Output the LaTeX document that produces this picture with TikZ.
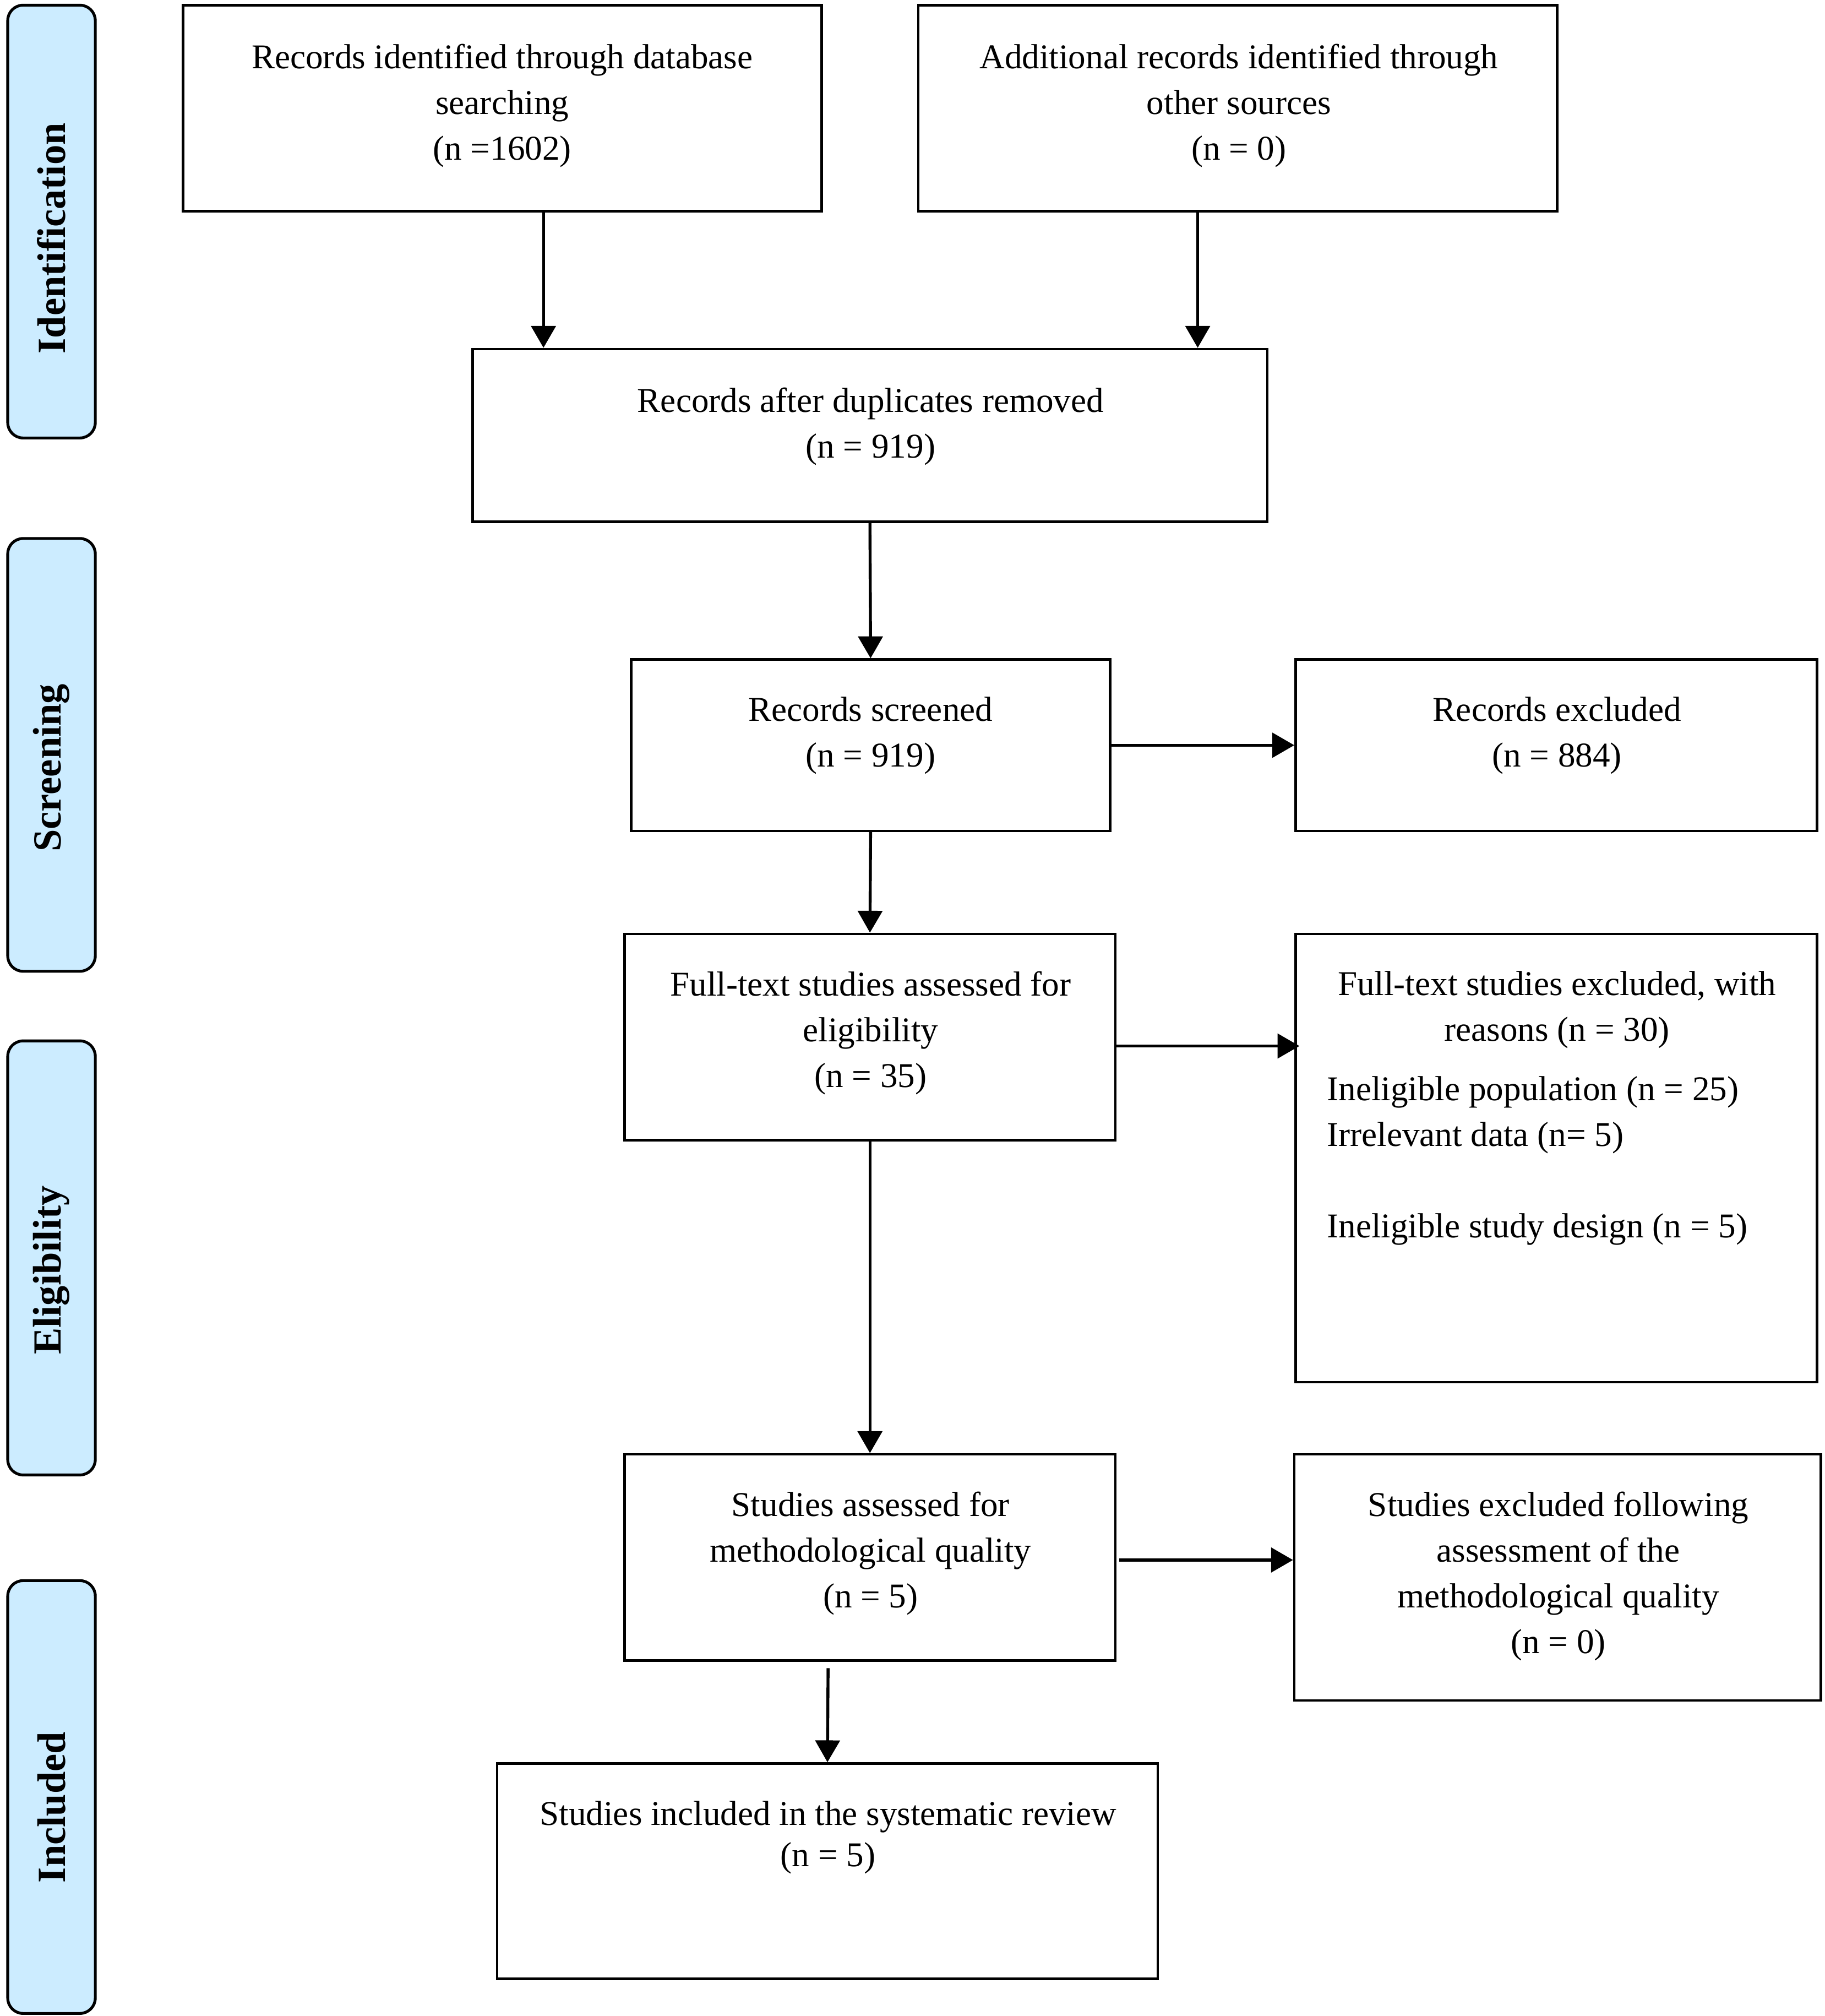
\documentclass[tikz,border=0pt]{standalone}
\usepackage{fontspec}
\setmainfont{Liberation Serif}
\usetikzlibrary{arrows.meta}
\definecolor{sideblue}{RGB}{204,236,255}
\tikzset{
  flowbox/.style={draw=black, line width=1pt, rectangle, inner sep=0pt},
  sidebox/.style={draw=black, line width=1.1pt, fill=sideblue, rounded corners=6pt, inner sep=0pt},
  sidetxt/.style={font=\fontsize{15.5}{18}\selectfont\bfseries, rotate=90, inner sep=0pt},
  txt/.style={font=\fontsize{13.5}{17.75}\selectfont, align=center, inner sep=0pt},
  ltxt/.style={font=\fontsize{13.5}{17.75}\selectfont, align=left, inner sep=0pt, anchor=west},
  flow/.style={line width=1.15pt, -{Triangle[length=8.5pt, width=9.5pt]}}
}
\begin{document}
\begin{tikzpicture}[x=0.5pt, y=-0.5pt]
\useasboundingbox (0,0) rectangle (1417,1565);

% side bars
\node[sidebox, minimum width=34pt, minimum height=168pt] (sidI) at (40,172) {};
\node[sidebox, minimum width=34pt, minimum height=168pt] (sidS) at (40,586) {};
\node[sidebox, minimum width=34pt, minimum height=168.5pt] (sidE) at (40,976.5) {};
\node[sidebox, minimum width=34pt, minimum height=168pt] (sidN) at (40,1395) {};
\node[sidetxt] (tI) at (40,185) {Identification};
\node[sidetxt] (tS) at (40,596) {Screening};
\node[sidetxt] (tE) at (40,986) {Eligibility};
\node[sidetxt] (tN) at (40,1403) {Included};

% boxes
\node[flowbox, minimum width=248pt, minimum height=80pt] (db) at (390,84) {};
\node[flowbox, minimum width=248pt, minimum height=80pt] (oth) at (961,84) {};
\node[flowbox, minimum width=308.5pt, minimum height=67pt] (dup) at (675.5,338) {};
\node[flowbox, minimum width=186pt, minimum height=66.5pt] (scr) at (676,578.5) {};
\node[flowbox, minimum width=202.5pt, minimum height=66.5pt] (rex) at (1208.5,578.5) {};
\node[flowbox, minimum width=190.5pt, minimum height=80pt] (ft) at (675.5,805) {};
\node[flowbox, minimum width=202.5pt, minimum height=174pt] (fex) at (1208.5,899) {};
\node[flowbox, minimum width=190.5pt, minimum height=80pt] (mq) at (675.5,1209) {};
\node[flowbox, minimum width=204.5pt, minimum height=95.5pt] (mex) at (1209.5,1224.5) {};
\node[flowbox, minimum width=256.5pt, minimum height=83.5pt] (inc) at (642.5,1452.5) {};

% texts
\node[txt] (tdb) at (390,82) {Records identified through database\\searching\\(n =1602)};
\node[txt] (toth) at (962,82) {Additional records identified through\\other sources\\(n = 0)};
\node[txt] (tdup) at (676,331) {Records after duplicates removed\\(n = 919)};
\node[txt] (tscr) at (676,571) {Records screened\\(n = 919)};
\node[txt] (trex) at (1209,571) {Records excluded\\(n = 884)};
\node[txt] (tft) at (676,802) {Full-text studies assessed for\\eligibility\\(n = 35)};
\node[txt] (tfex) at (1209,784) {Full-text studies excluded, with\\reasons (n = 30)};
\node[ltxt] (tfex2) at (1030,901) {Ineligible population (n = 25)\\Irrelevant data (n= 5)\\[17.75pt]Ineligible study design (n = 5)};
\node[txt] (tmq) at (676,1206) {Studies assessed for\\methodological quality\\(n = 5)};
\node[txt] (tmex) at (1210,1223.5) {Studies excluded following\\assessment of the\\methodological quality\\(n = 0)};
\node[txt, font=\fontsize{13.5}{16}\selectfont] (tinc) at (643,1426.5) {Studies included in the systematic review\\(n = 5)};

% connectors
\draw[flow] (db.south -| 422,0) -- (dup.north -| 422,0);
\draw[flow] (oth.south -| 930,0) -- (dup.north -| 930,0);
\draw[flow] (dup.south) -- (scr.north);
\draw[flow] (scr.south) -- (ft.north);
\draw[flow] (scr.east) -- (rex.west);
\draw[flow] (ft.east |- 0,812) -- ([xshift=2pt]fex.west |- 0,812);
\draw[flow] (ft.south) -- (mq.north);
\draw[flow] ([xshift=1pt]mq.east |- 0,1211) -- (mex.west |- 0,1211);
\coordinate (mqb) at ([yshift=-2.5pt]mq.south -| 643,0);
\draw[flow] (mqb) -- (inc.north);
\end{tikzpicture}
\end{document}
